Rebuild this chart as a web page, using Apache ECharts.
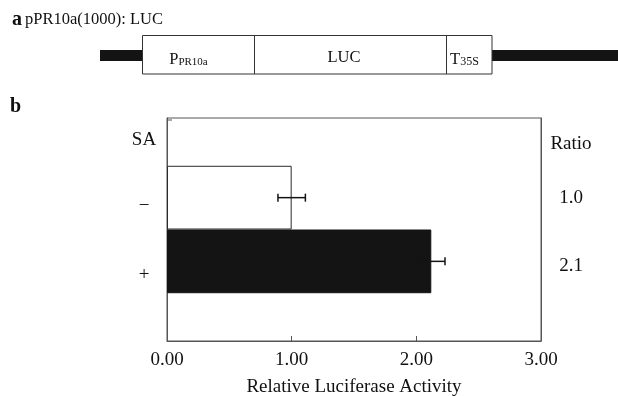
<!DOCTYPE html>
<html>
<head>
<meta charset="utf-8">
<script src="https://cdn.jsdelivr.net/npm/echarts@6/dist/echarts.min.js"></script>
<style>
  html, body { margin: 0; padding: 0; background: #fff; }
  #chart { width: 618px; height: 396px; }
</style>
</head>
<body>
<div id="chart"></div>
<script>
// values
const conditions = ['−', '+']
const activity = [1.0, 2.12]
const errorSd = [0.11, 0.11]
const ratioText = ['1.0', '2.1']
const xTicks = [0, 1, 2, 3]

const serif = "'Liberation Serif', 'Times New Roman', serif"

// rows of the y axis: header, spacer, SA-, spacer, SA+, spacer, spacer
const leftRows = ['SA', '', conditions[0], '', conditions[1], '', '']
const rightRows = ['Ratio', '', ratioText[0], '', ratioText[1], '', '']
const barRow = [2, 4]

const barData = leftRows.map(() => '-')
barRow.forEach((r, i) => {
	barData[r] = {
		value: activity[i],
		itemStyle: i === 0
			? { color: '#fff', borderColor: '#2a2a2a', borderWidth: 1 }
			: { color: '#141414', borderColor: '#141414', borderWidth: 1 }
	}
})
const errData = barRow.map((r, i) => [r, activity[i] - errorSd[i], activity[i] + errorSd[i]])

// small nudges so the row labels sit like the original
const labelShift = { SA: 12, '−': 16, '+': 28, Ratio: 20, '1.0': 0, '2.1': 10 }
function rowLabel(v) {
	if (!v) return ''
	const key = Object.keys(labelShift).indexOf(v)
	return '{r' + key + '|' + v + '}'
}
const rich = {}
Object.keys(labelShift).forEach((k, i) => {
	const p = labelShift[k]
	rich['r' + i] = {
		fontSize: 19,
		fontFamily: serif,
		color: '#111',
		padding: p >= 0 ? [p, 0, 0, 0] : [0, 0, -p, 0]
	}
})

function renderErr(params, api) {
	const y = api.value(0)
	const a = api.coord([api.value(1), y])
	const b = api.coord([api.value(2), y])
	const h = 4
	const st = { stroke: '#141414', lineWidth: 1.5 }
	return {
		type: 'group',
		children: [
			{ type: 'line', shape: { x1: a[0], y1: a[1], x2: b[0], y2: b[1] }, style: st },
			{ type: 'line', shape: { x1: a[0], y1: a[1] - h, x2: a[0], y2: a[1] + h }, style: st },
			{ type: 'line', shape: { x1: b[0], y1: b[1] - h, x2: b[0], y2: b[1] + h }, style: st }
		]
	}
}

const chart = echarts.init(document.getElementById('chart'))
chart.setOption({
	backgroundColor: '#fff',
	animation: false,
	grid: {
		left: 167,
		top: 118,
		right: 77,
		bottom: 55,
		outerBoundsMode: 'none',
		containLabel: false,
		show: true,
		borderColor: '#555',
		borderWidth: 1,
		backgroundColor: 'transparent'
	},
	xAxis: {
		type: 'value',
		min: 0,
		max: 3,
		interval: 1,
		axisLine: { show: true, lineStyle: { color: '#555', width: 1 } },
		axisTick: { show: true, inside: true, length: 5, lineStyle: { color: '#555' } },
		splitLine: { show: false },
		axisLabel: {
			margin: 10,
			color: '#111',
			fontSize: 19,
			fontFamily: serif,
			formatter: v => xTicks.indexOf(v) >= 0 ? v.toFixed(2) : ''
		},
		name: 'Relative Luciferase Activity',
		nameLocation: 'middle',
		nameGap: 37,
		nameTextStyle: { color: '#111', fontSize: 19, fontFamily: serif }
	},
	yAxis: [
		{
			type: 'category',
			data: leftRows.map((v, i) => 'L' + i),
			inverse: true,
			axisLine: { show: true, lineStyle: { color: '#555', width: 1 } },
			axisTick: { show: false },
			splitLine: { show: false },
			axisLabel: {
				margin: 23,
				align: 'center',
				interval: 0,
				formatter: (v, i) => rowLabel(leftRows[i]),
				rich: rich
			}
		},
		{
			type: 'category',
			position: 'right',
			data: rightRows.map((v, i) => 'R' + i),
			inverse: true,
			axisLine: { show: true, lineStyle: { color: '#555', width: 1 } },
			axisTick: { show: false },
			splitLine: { show: false },
			axisLabel: {
				margin: 30,
				align: 'center',
				interval: 0,
				formatter: (v, i) => rowLabel(rightRows[i]),
				rich: rich
			}
		}
	],
	graphic: [
		{ type: 'text', x: 12, y: 20, style: { text: 'a', font: 'bold 20px ' + serif, fill: '#111', verticalAlign: 'middle' } },
		{ type: 'text', x: 25, y: 20, style: { text: 'pPR10a(1000): LUC', font: '16.5px ' + serif, fill: '#111', verticalAlign: 'middle' } },
		{ type: 'text', x: 10, y: 107, style: { text: 'b', font: 'bold 20px ' + serif, fill: '#111', verticalAlign: 'middle' } },
		{ type: 'line', shape: { x1: 167, y1: 120, x2: 172, y2: 120 }, style: { stroke: '#555', lineWidth: 1 } },
		{ type: 'rect', shape: { x: 100, y: 50, width: 43, height: 11 }, style: { fill: '#141414' } },
		{ type: 'rect', shape: { x: 492, y: 50, width: 126, height: 11 }, style: { fill: '#141414' } },
		{ type: 'rect', shape: { x: 142.5, y: 35.5, width: 349.5, height: 38.5 }, style: { fill: '#fff', stroke: '#333', lineWidth: 1 } },
		{ type: 'line', shape: { x1: 254.5, y1: 35.5, x2: 254.5, y2: 74 }, style: { stroke: '#333', lineWidth: 1 } },
		{ type: 'line', shape: { x1: 446.5, y1: 35.5, x2: 446.5, y2: 74 }, style: { stroke: '#333', lineWidth: 1 } },
		{
			type: 'text', x: 188.5, y: 58,
			style: {
				text: '{m|P}{s|PR10a}', align: 'center', verticalAlign: 'middle', fill: '#111',
				rich: {
					m: { fontSize: 16.5, fontFamily: serif, color: '#111', verticalAlign: 'bottom', lineHeight: 20 },
					s: { fontSize: 11, fontFamily: serif, color: '#111', verticalAlign: 'bottom', lineHeight: 14 }
				}
			}
		},
		{ type: 'text', x: 344, y: 57.5, style: { text: 'LUC', font: '16.5px ' + serif, fill: '#111', align: 'center', verticalAlign: 'middle' } },
		{
			type: 'text', x: 464.5, y: 58,
			style: {
				text: '{m|T}{s|35S}', align: 'center', verticalAlign: 'middle', fill: '#111',
				rich: {
					m: { fontSize: 16.5, fontFamily: serif, color: '#111', verticalAlign: 'bottom', lineHeight: 20 },
					s: { fontSize: 12, fontFamily: serif, color: '#111', verticalAlign: 'bottom', lineHeight: 14 }
				}
			}
		}
	],
	series: [
		{
			type: 'bar',
			yAxisIndex: 0,
			barWidth: '200%',
			data: barData,
			z: 2
		},
		{
			type: 'custom',
			yAxisIndex: 0,
			renderItem: renderErr,
			encode: { x: [1, 2], y: 0 },
			data: errData,
			z: 3
		}
	]
})
</script>
</body>
</html>
